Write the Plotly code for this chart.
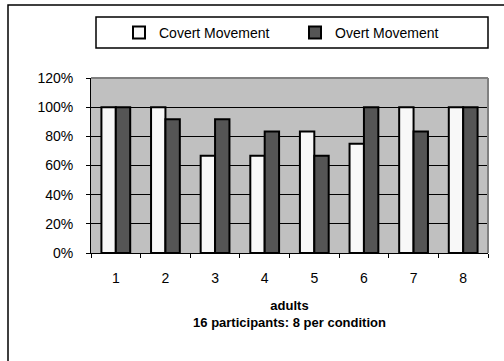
import plotly.graph_objects as go

categories = ["1", "2", "3", "4", "5", "6", "7", "8"]
covert = [1.0, 1.0, 0.667, 0.667, 0.833, 0.75, 1.0, 1.0]
overt = [1.0, 0.917, 0.917, 0.833, 0.667, 1.0, 0.833, 1.0]
y_ticks = [0, 0.2, 0.4, 0.6, 0.8, 1.0, 1.2]

W, H = 504, 361
L, R, T, B = 91, 16, 78, 108
pw, ph = W - L - R, H - T - B

def px_x(p):
    return (p - L) / pw

def px_y(p):
    return (H - B - p) / ph

fig = go.Figure()
fig.add_trace(go.Bar(x=categories, y=covert, name="Covert Movement",
                     marker=dict(color="#F8F8F8", line=dict(color="black", width=2))))
fig.add_trace(go.Bar(x=categories, y=overt, name="Overt Movement",
                     marker=dict(color="#555555", line=dict(color="black", width=2))))

font = "Liberation Sans, Arial, sans-serif"
fig.update_layout(
    width=W, height=H,
    margin=dict(l=L, r=R, t=T, b=B, pad=0),
    paper_bgcolor="white", plot_bgcolor="#C0C0C0",
    barmode="group", bargap=0.42, bargroupgap=0,
    font=dict(family=font, size=14, color="black"),
    showlegend=True,
    legend=dict(orientation="h", x=px_x(119), y=px_y(33), xanchor="left", yanchor="middle",
                bgcolor="rgba(0,0,0,0)", borderwidth=0, font=dict(size=14),
                entrywidth=131, entrywidthmode="pixels", itemwidth=30),
    xaxis=dict(type="category", showline=True, linecolor="black", linewidth=1,
               ticks="outside", ticklen=4, tickcolor="black", tickson="boundaries",
               ticklabelstandoff=12,
               showgrid=False, mirror=False,
               title=dict(text="<b>adults<br>16 participants: 8 per condition</b>",
                          font=dict(size=13), standoff=16)),
    yaxis=dict(range=[0, 1.2], tickvals=y_ticks, tickformat=".0%", showline=True,
               linecolor="black", linewidth=1, ticks="outside", ticklen=4, tickcolor="black",
               ticklabelstandoff=10,
               showgrid=True, gridcolor="black", gridwidth=1, zeroline=False),
    shapes=[
        # outer chart border
        dict(type="rect", xref="paper", yref="paper", x0=px_x(8), x1=px_x(560),
             y0=px_y(400), y1=px_y(5), line=dict(color="black", width=1.5), layer="below"),
        # legend box
        dict(type="rect", xref="paper", yref="paper", x0=px_x(96), x1=px_x(488),
             y0=px_y(48), y1=px_y(17), line=dict(color="black", width=1.5)),
        # top and right gray border of plot area
        dict(type="line", xref="paper", yref="paper", x0=0, x1=1, y0=1, y1=1,
             line=dict(color="#808080", width=2)),
        dict(type="line", xref="paper", yref="paper", x0=1, x1=1, y0=0, y1=1,
             line=dict(color="#808080", width=2)),
    ],
)

fig.write_html("out.html")
